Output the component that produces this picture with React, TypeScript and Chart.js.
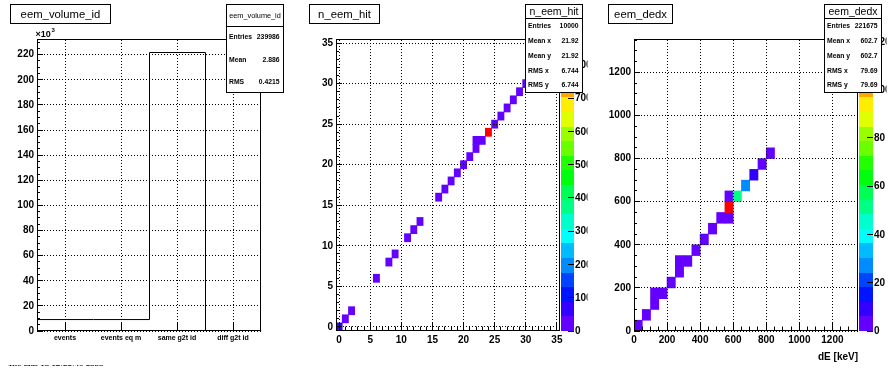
import React, { useEffect, useRef } from "react";
import { Chart, registerables } from "chart.js";

Chart.register(...registerables);

const FONT = '"Liberation Sans", Arial, Helvetica, sans-serif';

// ---------- eem_volume_id (counts in units of 10^3) ----------
const volumeCategories = ["events", "events eq m", "same g2t id", "diff g2t id"];
const volumeCounts = [9.119, 9.119, 221.748, 0];
const volumeStats: [string, string][] = [
  ["Entries", "239986"],
  ["Mean", "2.886"],
  ["RMS", "0.4215"],
];

// ---------- n_eem_hit (2D, unit bins) ----------
const hitBinX = [0, 1, 2, 6, 8, 9, 11, 12, 13, 16, 17, 18, 19, 20, 21, 22, 22, 23, 24, 25, 26, 27, 28, 29, 30];
const hitBinY = [0, 1, 2, 6, 8, 9, 11, 12, 13, 16, 17, 18, 19, 20, 21, 22, 23, 23, 24, 25, 26, 27, 28, 29, 30];
const hitCounts = [52, 18, 22, 15, 20, 24, 19, 26, 21, 17, 23, 28, 25, 30, 27, 33, 16, 29, 878, 31, 26, 24, 22, 20, 18];
const hitPaletteTicks = [0, 100, 200, 300, 400, 500, 600, 700, 800];
const hitStats: [string, string][] = [
  ["Entries", "10000"],
  ["Mean x", "21.92"],
  ["Mean y", "21.92"],
  ["RMS x", "6.744"],
  ["RMS y", "6.744"],
];

// ---------- eem_dedx (2D, 50 keV bins, lower edges) ----------
const dedxBinX = [0, 50, 100, 100, 150, 200, 250, 250, 300, 350, 400, 450, 500, 550, 550, 550, 600, 650, 700, 750, 800];
const dedxBinY = [0, 50, 100, 150, 150, 200, 250, 300, 300, 350, 400, 450, 500, 500, 550, 600, 600, 650, 700, 750, 800];
const dedxCounts = [3, 2, 4, 2, 3, 4, 3, 2, 4, 5, 3, 4, 4, 3, 121, 5, 51, 27, 9, 4, 3];
const dedxPaletteTicks = [0, 20, 40, 60, 80, 100, 120];
const dedxStats: [string, string][] = [
  ["Entries", "221675"],
  ["Mean x", "602.7"],
  ["Mean y", "602.7"],
  ["RMS x", "79.69"],
  ["RMS y", "79.69"],
];

// ---------- layout constants ----------
const H = 372;
const FRAME_LEFT = 37;
const FRAME_RIGHT = 261;
const FRAME_TOP = 39;
const FRAME_BOTTOM = 331;
const X_AXIS_H = 32;
const Y_AXIS_W = 30;

function align(p: number) {
  return Math.round(p - 0.5) + 0.5;
}

// ROOT "pretty" palette with 20 contour levels
function bandColor(v: number, zmax: number): string {
  const ndiv = 20;
  const ncol = 50;
  let j = Math.floor((v / zmax) * ndiv);
  if (j > ndiv - 1) j = ndiv - 1;
  if (j < 0) j = 0;
  const idx = Math.floor(((j + 0.99) * ncol) / ndiv);
  const hue = 280 - (idx + 1) * (280 / ncol);
  return `hsl(${hue}, 100%, 50%)`;
}

function layoutFor(width: number) {
  return {
    padding: {
      left: FRAME_LEFT - Y_AXIS_W,
      top: FRAME_TOP,
      right: width - FRAME_RIGHT,
      bottom: H - FRAME_BOTTOM - X_AXIS_H,
    },
  };
}

function axis(min: number, max: number, step: number | undefined, fontSize: number, isX: boolean, extra: any = {}) {
  return {
    type: "linear",
    min,
    max,
    offset: false,
    ticks: {
      stepSize: step,
      includeBounds: false,
      autoSkip: false,
      maxRotation: 0,
      minRotation: 0,
      color: "#000",
      padding: 3,
      font: { family: FONT, size: fontSize, weight: "bold" },
      callback: (v: any) => String(v),
    },
    grid: { display: false, drawTicks: false, offset: false },
    border: { display: false },
    afterFit: (s: any) => {
      if (isX) s.height = X_AXIS_H;
      else s.width = Y_AXIS_W;
    },
    ...extra,
  };
}

// dotted ROOT-style grid at the scales' major ticks
function drawDottedGrid(ctx: CanvasRenderingContext2D, chart: any) {
  const a = chart.chartArea;
  const xs = chart.scales.x;
  const ys = chart.scales.y;
  ctx.fillStyle = "#000";
  xs.ticks.forEach((t: any) => {
    const col = Math.round(xs.getPixelForValue(t.value) - 0.5);
    for (let y = a.top + 1; y < a.bottom; y += 3) ctx.fillRect(col, y, 1, 1);
  });
  ys.ticks.forEach((t: any) => {
    const row = Math.round(ys.getPixelForValue(t.value) - 0.5);
    for (let x = a.left + 1; x < a.right; x += 3) ctx.fillRect(x, row, 1, 1);
  });
}

function drawFrame(ctx: CanvasRenderingContext2D, a: any) {
  ctx.strokeStyle = "#000";
  ctx.lineWidth = 1;
  ctx.setLineDash([]);
  ctx.strokeRect(a.left + 0.5, a.top + 0.5, a.right - a.left - 1, a.bottom - a.top - 1);
}

function drawAxisTicks(
  ctx: CanvasRenderingContext2D,
  chart: any,
  o: { xMinor?: number; yMinor?: number; xLen: number; yLen: number }
) {
  const a = chart.chartArea;
  const xs = chart.scales.x;
  const ys = chart.scales.y;
  ctx.strokeStyle = "#000";
  ctx.lineWidth = 1;
  ctx.setLineDash([]);
  ctx.beginPath();
  const xMark = (v: number, len: number) => {
    const p = align(xs.getPixelForValue(v));
    ctx.moveTo(p, a.bottom);
    ctx.lineTo(p, a.bottom - len);
  };
  const yMark = (v: number, len: number) => {
    const p = align(ys.getPixelForValue(v));
    ctx.moveTo(a.left, p);
    ctx.lineTo(a.left + len, p);
  };
  xs.ticks.forEach((t: any) => xMark(t.value, o.xLen));
  ys.ticks.forEach((t: any) => yMark(t.value, o.yLen));
  if (o.xMinor) {
    for (let v = Math.ceil(xs.min / o.xMinor) * o.xMinor; v <= xs.max + 1e-9; v += o.xMinor) xMark(v, o.xLen / 2);
  }
  if (o.yMinor) {
    for (let v = Math.ceil(ys.min / o.yMinor) * o.yMinor; v <= ys.max + 1e-9; v += o.yMinor) yMark(v, o.yLen / 2);
  }
  ctx.stroke();
}

function drawPalette(
  ctx: CanvasRenderingContext2D,
  a: any,
  zmax: number,
  labels: number[],
  x0: number,
  x1: number,
  clipRight: number
) {
  const yOf = (z: number) => a.bottom - (z / zmax) * (a.bottom - a.top);
  for (let j = 0; j < 20; j++) {
    const yHi = Math.round(yOf(((j + 1) * zmax) / 20));
    const yLo = Math.round(yOf((j * zmax) / 20));
    ctx.fillStyle = bandColor(((j + 0.5) * zmax) / 20, zmax);
    ctx.fillRect(x0, yHi, x1 - x0, yLo - yHi);
  }
  ctx.strokeStyle = "#000";
  ctx.lineWidth = 1;
  ctx.beginPath();
  labels.forEach((v) => {
    if (v > zmax) return;
    const p = align(yOf(v));
    ctx.moveTo(x1, p);
    ctx.lineTo(x1 - 6, p);
  });
  ctx.stroke();
  ctx.save();
  ctx.beginPath();
  ctx.rect(x1, 0, clipRight - x1, H);
  ctx.clip();
  ctx.fillStyle = "#000";
  ctx.font = `bold 10px ${FONT}`;
  ctx.textAlign = "left";
  ctx.textBaseline = "middle";
  labels.forEach((v) => {
    if (v > zmax) return;
    ctx.fillText(String(v), x1 + 1, yOf(v) + 0.5);
  });
  ctx.restore();
}

function drawStats(
  ctx: CanvasRenderingContext2D,
  x0: number,
  y0: number,
  x1: number,
  y1: number,
  title: string,
  titleSize: number,
  rows: [string, string][]
) {
  ctx.setLineDash([]);
  ctx.fillStyle = "#fff";
  ctx.fillRect(x0, y0, x1 - x0, y1 - y0);
  ctx.strokeStyle = "#000";
  ctx.lineWidth = 1;
  ctx.strokeRect(x0 + 0.5, y0 + 0.5, x1 - x0 - 1, y1 - y0 - 1);
  const h = (y1 - y0) / (rows.length + 1);
  ctx.beginPath();
  ctx.moveTo(x0, align(y0 + h));
  ctx.lineTo(x1, align(y0 + h));
  ctx.stroke();
  ctx.fillStyle = "#000";
  ctx.textBaseline = "middle";
  ctx.textAlign = "center";
  ctx.font = `${titleSize}px ${FONT}`;
  ctx.fillText(title, (x0 + x1) / 2, y0 + h / 2 + 0.5);
  ctx.font = `bold 6.8px ${FONT}`;
  rows.forEach(([k, v], i) => {
    const y = y0 + h * (i + 1.5);
    ctx.textAlign = "left";
    ctx.fillText(k, x0 + 3, y);
    ctx.textAlign = "right";
    ctx.fillText(v, x1 - 4.5, y);
  });
}

function drawTitleBox(ctx: CanvasRenderingContext2D, x0: number, y0: number, w: number, h: number, text: string) {
  ctx.setLineDash([]);
  ctx.fillStyle = "#fff";
  ctx.fillRect(x0, y0, w, h);
  ctx.strokeStyle = "#000";
  ctx.lineWidth = 1;
  ctx.strokeRect(x0 + 0.5, y0 + 0.5, w - 1, h - 1);
  ctx.fillStyle = "#000";
  ctx.font = `11.3px ${FONT}`;
  ctx.textAlign = "center";
  ctx.textBaseline = "middle";
  ctx.fillText(text, x0 + w / 2, y0 + h / 2 + 0.5);
}

function overlay(draw: (ctx: CanvasRenderingContext2D, chart: any) => void, shiftDatasets = false) {
  return {
    id: "rootOverlay",
    beforeDatasetsDraw(chart: any) {
      if (shiftDatasets) {
        chart.ctx.save();
        chart.ctx.translate(0.5, 0);
      }
    },
    afterDatasetsDraw(chart: any) {
      if (shiftDatasets) chart.ctx.restore();
    },
    afterDraw(chart: any) {
      const ctx = chart.ctx as CanvasRenderingContext2D;
      ctx.save();
      drawDottedGrid(ctx, chart);
      draw(ctx, chart);
      ctx.restore();
    },
  };
}

const commonPlugins = {
  legend: { display: false },
  tooltip: { enabled: false },
  title: { display: false },
};

// ---------- chart factories ----------
function makeVolumeChart(width: number): any {
  const outline = [
    { x: 0.5, y: 0 },
    ...volumeCounts.map((v, i) => ({ x: i + 0.5, y: v })),
    { x: volumeCounts.length + 0.5, y: 0 },
  ];
  return {
    type: "line",
    data: {
      datasets: [
        {
          data: outline,
          borderColor: "#000",
          borderWidth: 1,
          pointRadius: 0,
          fill: false,
          stepped: "before",
        },
      ],
    },
    options: {
      animation: false,
      responsive: false,
      devicePixelRatio: 1,
      layout: layoutFor(width),
      plugins: commonPlugins,
      scales: {
        x: axis(0.5, volumeCounts.length + 0.5, 1, 7, true, {
          afterBuildTicks: (s: any) => {
            s.ticks = volumeCategories.map((_, i) => ({ value: i + 1 }));
          },
          ticks: {
            autoSkip: false,
            maxRotation: 0,
            minRotation: 0,
            color: "#000",
            padding: 3,
            font: { family: FONT, size: 7, weight: "bold" },
            callback: (v: any) => volumeCategories[Math.round(Number(v)) - 1] ?? "",
          },
        }),
        y: axis(0, 232.5, 20, 10, false),
      },
    },
    plugins: [
      overlay((ctx, chart) => {
        const a = chart.chartArea;
        drawFrame(ctx, a);
        drawAxisTicks(ctx, chart, { yMinor: 5, xLen: 9, yLen: 6 });
        // exponent label
        ctx.fillStyle = "#000";
        ctx.textAlign = "left";
        ctx.textBaseline = "alphabetic";
        ctx.font = `bold 9px ${FONT}`;
        ctx.fillText("\u00d710", 35.5, 37.3);
        ctx.font = `bold 6px ${FONT}`;
        ctx.fillText("3", 51.5, 32);
        drawStats(ctx, 226, 4, 284, 93, "eem_volume_id", 7.3, volumeStats);
        drawTitleBox(ctx, 10, 4, 101, 20, "eem_volume_id");
        // date stamp (rendered squashed, as in the original print)
        ctx.save();
        ctx.translate(8, 364.6);
        ctx.scale(1, 0.28);
        ctx.font = `bold 8px ${FONT}`;
        ctx.textBaseline = "top";
        ctx.textAlign = "left";
        ctx.fillStyle = "#000";
        ctx.fillText("Tue Mar 10 18:52:47 2009", 0, 0);
        ctx.restore();
      }, true),
    ],
  };
}

function makeHitChart(width: number): any {
  const zmax = Math.max(...hitCounts);
  return {
    type: "bar",
    data: {
      datasets: [
        {
          data: hitBinX.map((x, i) => ({ x, y: [hitBinY[i] - 0.5, hitBinY[i] + 0.5] })),
          backgroundColor: (c: any) => bandColor(hitCounts[c.dataIndex] ?? 0, zmax),
          borderWidth: 0,
          categoryPercentage: 1,
          barPercentage: 1,
          grouped: false,
        },
      ],
    },
    options: {
      animation: false,
      responsive: false,
      devicePixelRatio: 1,
      layout: layoutFor(width),
      plugins: commonPlugins,
      scales: {
        x: axis(-0.5, 35.5, 5, 10, true),
        y: axis(-0.5, 35.5, 5, 10, false),
      },
    },
    plugins: [
      overlay((ctx, chart) => {
        const a = chart.chartArea;
        drawFrame(ctx, a);
        drawAxisTicks(ctx, chart, { xMinor: 1, yMinor: 1, xLen: 9, yLen: 6 });
        drawPalette(ctx, a, zmax, hitPaletteTicks, 262, 275, 288.5);
        drawStats(ctx, 226, 4, 284, 93, "n_eem_hit", 10.5, hitStats);
        drawTitleBox(ctx, 10, 4, 71, 20, "n_eem_hit");
      }),
    ],
  };
}

function makeDedxChart(width: number): any {
  const zmax = Math.max(...dedxCounts);
  const bw = 50;
  return {
    type: "bar",
    data: {
      datasets: [
        {
          data: dedxBinX.map((x, i) => ({ x: x + bw / 2, y: [dedxBinY[i], dedxBinY[i] + bw] })),
          backgroundColor: (c: any) => bandColor(dedxCounts[c.dataIndex] ?? 0, zmax),
          borderWidth: 0,
          categoryPercentage: 1,
          barPercentage: 1,
          grouped: false,
        },
      ],
    },
    options: {
      animation: false,
      responsive: false,
      devicePixelRatio: 1,
      layout: layoutFor(width),
      plugins: commonPlugins,
      scales: {
        x: axis(0, 1355, 200, 10, true, {
          title: {
            display: true,
            text: "dE [keV]",
            align: "end",
            color: "#000",
            padding: 0,
            font: { family: FONT, size: 10, weight: "bold" },
          },
        }),
        y: axis(0, 1355, 200, 10, false),
      },
    },
    plugins: [
      overlay((ctx, chart) => {
        const a = chart.chartArea;
        drawFrame(ctx, a);
        drawAxisTicks(ctx, chart, { xMinor: 50, yMinor: 50, xLen: 9, yLen: 6 });
        drawPalette(ctx, a, zmax, dedxPaletteTicks, 262, 276, 289.5);
        drawStats(ctx, 227, 4, 285, 93, "eem_dedx", 10.5, dedxStats);
        drawTitleBox(ctx, 11, 4, 65, 20, "eem_dedx");
      }),
    ],
  };
}

function ChartPad({ left, width, make }: { left: number; width: number; make: (w: number) => any }) {
  const ref = useRef<HTMLCanvasElement>(null);
  useEffect(() => {
    if (!ref.current) return;
    const chart = new Chart(ref.current, make(width));
    return () => chart.destroy();
  }, []);
  return (
    <div style={{ position: "absolute", left, top: 0, width, height: H }}>
      <canvas ref={ref} width={width} height={H} style={{ display: "block", width, height: H }} />
    </div>
  );
}

export default function App() {
  return (
    <div
      style={{
        position: "fixed",
        left: 0,
        top: 0,
        width: 896,
        height: H,
        background: "#fff",
        overflow: "hidden",
      }}
    >
      <ChartPad left={0} width={299} make={makeVolumeChart} />
      <ChartPad left={299} width={298} make={makeHitChart} />
      <ChartPad left={597} width={299} make={makeDedxChart} />
    </div>
  );
}
